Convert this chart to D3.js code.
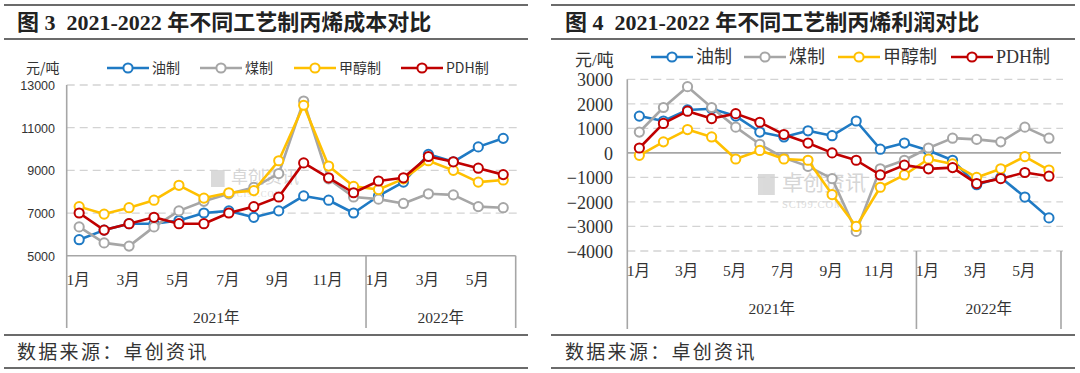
<!DOCTYPE html>
<html>
<head>
<meta charset="utf-8">
<script src="https://cdn.jsdelivr.net/npm/d3@7"></script>
<style>
  html, body { margin: 0; padding: 0; background: #fff; }
  svg { display: block; }
  text { white-space: pre; }
</style>
</head>
<body>
<div id="svg-container"></div>
<script>
////////////////////////////  Data  ////////////////////////////////
const months = ["1月", "2月", "3月", "4月", "5月", "6月", "7月", "8月", "9月", "10月", "11月", "12月",
  "1月", "2月", "3月", "4月", "5月", "6月"];
const yearLabels = ["2021年", "2022年"];
const yearSpans = [12, 6];

const seriesNames = ["油制", "煤制", "甲醇制", "PDH制"];

// 图3 成本 (元/吨)
const costOil = [5750, 6200, 6500, 6500, 6650, 7000, 7100, 6800, 7100, 7800, 7600, 7000, 7800, 8450, 9750, 9400, 10100, 10500];
const costCoal = [6350, 5600, 5450, 6350, 7100, 7550, 7900, 8200, 8850, 12250, 8600, 7750, 7650, 7450, 7900, 7850, 7300, 7250];
const costMethanol = [7300, 6950, 7250, 7600, 8300, 7700, 7950, 8050, 9450, 12050, 9200, 8250, 8100, 8600, 9450, 9000, 8450, 8550];
const costPDH = [7000, 6200, 6500, 6800, 6500, 6500, 7000, 7300, 7750, 9350, 8650, 7950, 8500, 8650, 9650, 9400, 9100, 8800];
const costTicks = [5000, 7000, 9000, 11000, 13000];

// 图4 利润 (元/吨)
const profitOil = [1500, 1300, 1750, 1800, 1500, 850, 650, 900, 700, 1300, 150, 400, 100, -300, -1300, -1000, -1800, -2650];
const profitCoal = [850, 1850, 2700, 1850, 1050, 350, -200, -550, -1050, -3200, -650, -300, 200, 600, 550, 450, 1050, 600];
const profitMethanol = [-100, 450, 950, 650, -250, 100, -250, -300, -1700, -3000, -1400, -900, -250, -450, -1000, -650, -150, -700];
const profitPDH = [200, 1200, 1700, 1400, 1600, 1250, 750, 400, 0, -300, -900, -500, -650, -600, -1250, -1050, -800, -950];
const profitTicks = [-4000, -3000, -2000, -1000, 0, 1000, 2000, 3000];

////////////////////////////  Init  ////////////////////////////////
const width = 1080;
const height = 373;
const colors = ["#1f7ac4", "#a6a6a6", "#ffc000", "#c00000"];
const serif = "'Liberation Serif', 'Noto Sans CJK SC', serif";
const sans = "'Liberation Sans', 'Noto Sans CJK SC', sans-serif";
const cjk = "'Noto Sans CJK SC', sans-serif";

const svg = d3.select("#svg-container").append("svg")
  .attr("width", width).attr("height", height);
svg.append("rect").attr("width", width).attr("height", height).attr("fill", "#fff");

const panels = [
  {
    title: "图 3  2021-2022 年不同工艺制丙烯成本对比",
    left: 4, right: 528, titleX: 17,
    x0: 66.7, x1: 515.7,
    yDomain: [5000, 13000], yRange: [255.7, 85],
    ticks: costTicks, baseValue: 5000,
    tickFont: sans, tickSize: 12.5, tickX: 55,
    series: [costOil, costCoal, costMethanol, costPDH],
    legendY: 68, legendX: [107, 200, 294, 401], legendFont: cjk, legendSize: 14,
    unitX: 26, unitY: 68, unitSize: 14,
    monthY: 280, yearY: 318, boxBottom: 328,
    wm: { x: 211, y: 170, s: 17, size: 17 }
  },
  {
    title: "图 4  2021-2022 年不同工艺制丙烯利润对比",
    left: 551, right: 1075, titleX: 565,
    x0: 627.3, x1: 1061,
    yDomain: [-4000, 3000], yRange: [251, 79.3],
    ticks: profitTicks, baseValue: 0,
    tickFont: serif, tickSize: 18, tickX: 613,
    series: [profitOil, profitCoal, profitMethanol, profitPDH],
    legendY: 57, legendX: [651, 744, 838, 951], legendFont: serif, legendSize: 18,
    unitX: 575, unitY: 60, unitSize: 17,
    monthY: 271, yearY: 309, boxBottom: 329,
    wm: { x: 758, y: 174, s: 21, size: 21 }
  }
];

panels.forEach(drawPanel);

function drawPanel(p) {
  const g = svg.append("g");

  // rules + title
  [5, 39, 335, 368].forEach((yy) => {
    g.append("line")
      .attr("x1", p.left).attr("x2", p.right)
      .attr("y1", yy).attr("y2", yy)
      .attr("stroke", "#3a3a3a").attr("stroke-width", 1.5);
  });
  g.append("text")
    .attr("x", p.titleX).attr("y", 30)
    .attr("font-family", serif).attr("font-size", 22).attr("font-weight", "bold")
    .attr("fill", "#222")
    .text(p.title);
  g.append("text")
    .attr("x", p.titleX).attr("y", 359)
    .attr("font-family", cjk).attr("font-size", 19)
    .attr("letter-spacing", 2.3)
    .attr("fill", "#333")
    .text("数据来源：卓创资讯");

  // scales
  const xScale = d3.scaleBand().domain(d3.range(months.length)).range([p.x0, p.x1]);
  const bw = xScale.bandwidth();
  const cx = (i) => xScale(i) + bw / 2;
  const yScale = d3.scaleLinear().domain(p.yDomain).range(p.yRange);

  // watermark
  const wm = g.append("g").attr("opacity", 0.55);
  wm.append("rect").attr("x", p.wm.x).attr("y", p.wm.y)
    .attr("width", p.wm.s * 0.8).attr("height", p.wm.s).attr("fill", "#bdbdbd");
  wm.append("text").attr("x", p.wm.x + p.wm.s + 3).attr("y", p.wm.y + p.wm.s * 0.78)
    .attr("font-family", cjk).attr("font-size", p.wm.size).attr("fill", "#b5b5b5")
    .text("卓创资讯");
  wm.append("text").attr("x", p.wm.x + p.wm.s + 3).attr("y", p.wm.y + p.wm.s * 1.6)
    .attr("font-family", serif).attr("font-size", p.wm.size * 0.5).attr("fill", "#bdbdbd")
    .attr("letter-spacing", 1)
    .text("SCI99.COM");

  // gridlines
  g.selectAll(".grid")
    .data(p.ticks.filter((t) => t !== p.baseValue))
    .enter()
    .append("line")
    .attr("x1", p.x0).attr("x2", p.x1 + 2)
    .attr("y1", (d) => yScale(d)).attr("y2", (d) => yScale(d))
    .attr("stroke", "#d3d3d3").attr("stroke-width", 1.3)
    .attr("stroke-dasharray", "8,5");

  // y axis labels
  const yAxis = d3.axisLeft(yScale).tickValues(p.ticks).tickSize(0).tickPadding(0)
    .tickFormat(d3.format("d"));
  const yg = g.append("g")
    .attr("transform", `translate(${p.tickX},0)`)
    .call(yAxis);
  yg.select(".domain").remove();
  yg.selectAll("text")
    .attr("font-family", p.tickFont).attr("font-size", p.tickSize)
    .attr("fill", "#333").attr("dy", "0.36em");

  // axis lines
  const axisColor = "#a6a6a6";
  g.append("line")
    .attr("x1", p.x0).attr("x2", p.x1)
    .attr("y1", yScale(p.baseValue)).attr("y2", yScale(p.baseValue))
    .attr("stroke", axisColor).attr("stroke-width", 1.6);
  g.append("line")
    .attr("x1", p.x0).attr("x2", p.x0)
    .attr("y1", p.yRange[1]).attr("y2", p.boxBottom)
    .attr("stroke", axisColor).attr("stroke-width", 1.6);
  // category group dividers
  const boxTop = yScale(p.yDomain[0]);
  [xScale(yearSpans[0]), p.x1].forEach((xx) => {
    g.append("line")
      .attr("x1", xx).attr("x2", xx)
      .attr("y1", boxTop).attr("y2", p.boxBottom)
      .attr("stroke", axisColor).attr("stroke-width", 1.6);
  });

  // month labels (every other)
  g.selectAll(".month")
    .data(months.map((m, i) => ({ m, i })).filter((d) => d.i % 2 === 0))
    .enter()
    .append("text")
    .attr("x", (d) => cx(d.i) - 1)
    .attr("y", p.monthY)
    .attr("dy", "0.35em")
    .attr("text-anchor", "middle")
    .attr("font-family", serif).attr("font-size", 15.5)
    .attr("fill", "#333")
    .text((d) => d.m);

  // year labels
  let start = 0;
  yearLabels.forEach((label, k) => {
    const a = xScale(start);
    const b = start + yearSpans[k] >= months.length ? p.x1 : xScale(start + yearSpans[k]);
    g.append("text")
      .attr("x", (a + b) / 2).attr("y", p.yearY)
      .attr("dy", "0.35em")
      .attr("text-anchor", "middle")
      .attr("font-family", serif).attr("font-size", 15.5)
      .attr("fill", "#333")
      .text(label);
    start += yearSpans[k];
  });

  // unit
  g.append("text")
    .attr("x", p.unitX).attr("y", p.unitY).attr("dy", "0.35em")
    .attr("font-family", p.legendFont).attr("font-size", p.unitSize)
    .attr("fill", "#333")
    .text("元/吨");

  // series lines + markers
  const line = d3.line().x((d, i) => cx(i)).y((d) => yScale(d));
  p.series.forEach((vals, k) => {
    g.append("path")
      .datum(vals)
      .attr("d", line)
      .attr("fill", "none")
      .attr("stroke", colors[k])
      .attr("stroke-width", 2.6)
      .attr("stroke-linejoin", "round");
    g.selectAll(".pt" + k)
      .data(vals)
      .enter()
      .append("circle")
      .attr("cx", (d, i) => cx(i))
      .attr("cy", (d) => yScale(d))
      .attr("r", 4.6)
      .attr("fill", "#fff")
      .attr("stroke", colors[k])
      .attr("stroke-width", 2);
  });

  // legend
  seriesNames.forEach((name, k) => {
    const lx = p.legendX[k];
    g.append("line")
      .attr("x1", lx).attr("x2", lx + 42)
      .attr("y1", p.legendY).attr("y2", p.legendY)
      .attr("stroke", colors[k]).attr("stroke-width", 2.6);
    g.append("circle")
      .attr("cx", lx + 21).attr("cy", p.legendY).attr("r", 4.6)
      .attr("fill", "#fff").attr("stroke", colors[k]).attr("stroke-width", 2);
    g.append("text")
      .attr("x", lx + 45).attr("y", p.legendY).attr("dy", "0.35em")
      .attr("font-family", p.legendFont).attr("font-size", p.legendSize)
      .attr("fill", "#333")
      .text(name);
  });
}
</script>
</body>
</html>
